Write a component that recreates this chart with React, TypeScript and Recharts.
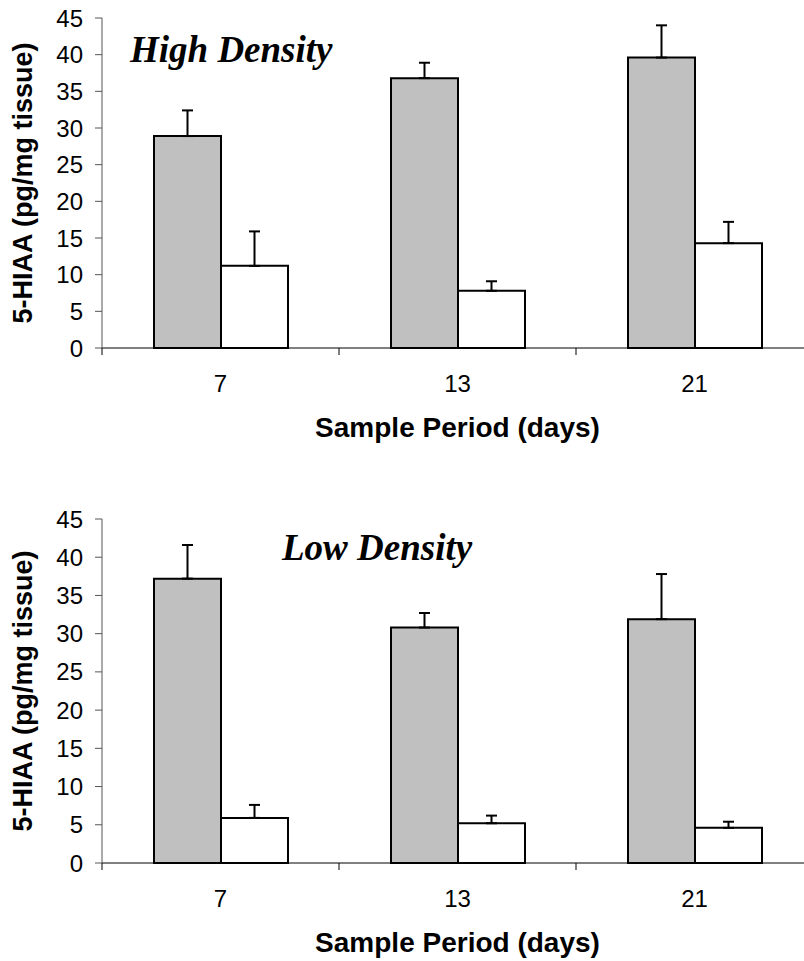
import React from "react";
import { BarChart, Bar, XAxis, YAxis, ErrorBar, Label } from "recharts";

// ── Data ──────────────────────────────────────────────────────────────────
const days = ["7", "13", "21"];
const yTicks = [0, 5, 10, 15, 20, 25, 30, 35, 40, 45];

// high density panel
const highGray = [28.9, 36.8, 39.6];
const highGrayErr = [3.5, 2.1, 4.4];
const highWhite = [11.2, 7.8, 14.3];
const highWhiteErr = [4.7, 1.3, 2.9];

// low density panel
const lowGray = [37.2, 30.8, 31.9];
const lowGrayErr = [4.4, 1.9, 5.9];
const lowWhite = [5.9, 5.2, 4.6];
const lowWhiteErr = [1.7, 1.0, 0.8];

const buildRows = (g: number[], ge: number[], w: number[], we: number[]) =>
  days.map((d, i) => ({
    day: d,
    gray: g[i],
    grayErr: [0, ge[i]],
    white: w[i],
    whiteErr: [0, we[i]],
  }));

// ── Style ─────────────────────────────────────────────────────────────────
const SANS = "'Liberation Sans', Arial, sans-serif";
const SERIF = "'Liberation Serif', 'Times New Roman', serif";
const TICK_FONT = 24;
const X_LABEL_FONT = 28;
const Y_LABEL_FONT = 27;
const X_TICK_MARGIN = 35;
const CHART_W = 830;

// category tick: label at the band centre, small tick marks on band edges
const CatTick = (props: any) => {
  const { x, y, payload, index, visibleTicksCount } = props;
  const half = payload?.offset || 118.5;
  const axisY = y - X_TICK_MARGIN;
  const last = index === visibleTicksCount - 1;
  return (
    <g>
      <line x1={x - half} y1={axisY} x2={x - half} y2={axisY + 7} stroke="#000" strokeWidth={1} />
      {last && <line x1={x + half} y1={axisY} x2={x + half} y2={axisY + 7} stroke="#000" strokeWidth={1} />}
      <text x={x} y={y} dy="0.355em" textAnchor="middle" fill="#000"
        style={{ fontFamily: SANS, fontSize: TICK_FONT }}>
        {payload.value}
      </text>
    </g>
  );
};

const XTitle = ({ viewBox }: any) => (
  <text x={viewBox.x + viewBox.width / 2} y={viewBox.y + 89} textAnchor="middle" fill="#000"
    style={{ fontFamily: SANS, fontSize: X_LABEL_FONT, fontWeight: 700 }}>
    Sample Period (days)
  </text>
);

const YTitle = ({ viewBox }: any) => {
  const cx = 23;
  const cy = viewBox.y + viewBox.height / 2;
  return (
    <text x={cx} y={cy} transform={`rotate(-90 ${cx} ${cy})`} textAnchor="middle"
      dominantBaseline="central" fill="#000"
      style={{ fontFamily: SANS, fontSize: Y_LABEL_FONT, fontWeight: 700 }}>
      5-HIAA (pg/mg tissue)
    </text>
  );
};

interface PanelProps {
  rows: ReturnType<typeof buildRows>;
  top: number;
  plotTop: number;
  plotH: number;
}

const Panel: React.FC<PanelProps> = ({ rows, top, plotTop, plotH }) => (
  <div style={{ position: "absolute", left: 0, top }}>
    <BarChart
      width={CHART_W}
      height={plotTop + plotH + 100}
      data={rows}
      margin={{ top: plotTop, right: 17, left: 0, bottom: 0 }}
      barGap={0}
      barSize={67}
    >
      <XAxis
        dataKey="day"
        height={100}
        tickLine={false}
        tickSize={0}
        tickMargin={X_TICK_MARGIN}
        axisLine={{ stroke: "#000", strokeWidth: 1 }}
        tick={<CatTick />}
        interval={0}
      >
        <Label content={<XTitle />} />
      </XAxis>
      <YAxis
        width={102}
        domain={[0, 45]}
        ticks={yTicks}
        interval={0}
        tickSize={7}
        tickMargin={12}
        axisLine={{ stroke: "#555", strokeWidth: 1 }}
        tickLine={{ stroke: "#555", strokeWidth: 1 }}
        tick={{ fill: "#000", fontFamily: SANS, fontSize: TICK_FONT }}
      >
        <Label content={<YTitle />} />
      </YAxis>
      <Bar dataKey="gray" fill="#C0C0C0" stroke="#000" strokeWidth={2} isAnimationActive={false}>
        <ErrorBar dataKey="grayErr" direction="y" width={5.5} stroke="#000" strokeWidth={2} />
      </Bar>
      <Bar dataKey="white" fill="#FFFFFF" stroke="#000" strokeWidth={2} isAnimationActive={false}>
        <ErrorBar dataKey="whiteErr" direction="y" width={5.5} stroke="#000" strokeWidth={2} />
      </Bar>
    </BarChart>
  </div>
);

const titleStyle: React.CSSProperties = {
  position: "absolute",
  fontFamily: SERIF,
  fontWeight: 700,
  fontStyle: "italic",
  fontSize: 37,
  lineHeight: 1,
  whiteSpace: "nowrap",
  color: "#000",
};

export default function App() {
  const highRows = buildRows(highGray, highGrayErr, highWhite, highWhiteErr);
  const lowRows = buildRows(lowGray, lowGrayErr, lowWhite, lowWhiteErr);
  return (
    <div style={{
      position: "absolute", left: 0, top: 0, width: 804, height: 961,
      overflow: "hidden", background: "#fff",
    }}>
      <Panel rows={highRows} top={0} plotTop={18} plotH={330} />
      <Panel rows={lowRows} top={480} plotTop={39} plotH={344} />
      <div style={{ ...titleStyle, left: 130, top: 31 }}>High Density</div>
      <div style={{ ...titleStyle, left: 282, top: 529 }}>Low Density</div>
    </div>
  );
}
